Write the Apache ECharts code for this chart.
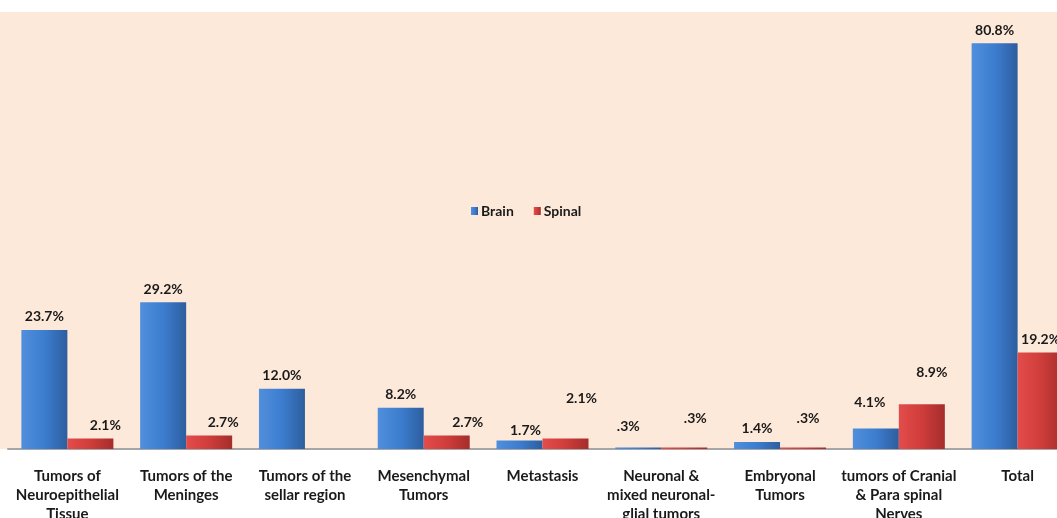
<!DOCTYPE html>
<html>
<head>
<meta charset="utf-8">
<script src="https://cdn.jsdelivr.net/npm/echarts@6/dist/echarts.min.js"></script>
<style>
html,body{margin:0;padding:0;background:#fff;overflow:hidden;width:1057px;height:518px;}
#chart{width:1100px;height:518px;}
</style>
</head>
<body>
<div id="chart"></div>
<script>
const categories = [
  "Tumors of\nNeuroepithelial\nTissue",
  "Tumors of the\nMeninges",
  "Tumors of the\nsellar region",
  "Mesenchymal\nTumors",
  "Metastasis",
  "Neuronal &\nmixed neuronal-\nglial tumors",
  "Embryonal\nTumors",
  "tumors of Cranial\n& Para spinal\nNerves",
  "Total"
];
const brain  = [23.7, 29.2, 12.0, 8.2, 1.7, 0.3, 1.4, 4.1, 80.8];
const spinal = [2.1, 2.7, 0, 2.7, 2.1, 0.3, 0.3, 8.9, 19.2];
const seriesNames = ["Brain", "Spinal"];

// label nudges (style only)
const brainLabelShift  = [[0,0],[0,0],[0,0],[0,0],[6,3],[-10,-8],[0,0],[-6,-13],[0,0]];
const spinalLabelShift = [[15,0],[14,0],[0,0],[21,0],[16,-27],[11,-16],[5,-16],[10,-19],[0,0]];

function fmt(v){
  if (!v) return '';
  let s = v.toFixed(1);
  if (s.startsWith('0')) s = s.slice(1);
  return s + '%';
}
const FONT = 'Lato, "Open Sans", sans-serif';

function grad(c1, c2, c3){
  return new echarts.graphic.LinearGradient(0,0,1,0,[
    {offset:0,color:c1},{offset:0.5,color:c2},{offset:1,color:c3}
  ]);
}
function buildData(vals, shifts){
  return vals.map((v,i)=>({
    value: v,
    label: { offset: shifts[i] }
  }));
}

const chart = echarts.init(document.getElementById('chart'));
chart.setOption({
  animation:false,
  backgroundColor:'#ffffff',
  graphic:[{
    type:'rect', z:-10, silent:true,
    shape:{x:0,y:12,width:1057,height:437},
    style:{fill:'#fde9da'}
  }],
  legend:{
    data:seriesNames,
    left:466, top:199,
    itemWidth:7, itemHeight:8, itemGap:20,
    icon:'rect',
    textStyle:{fontFamily:FONT,fontSize:14,fontWeight:'bold',color:'#1a1a1a',padding:[0,0,0,-2]}
  },
  grid:{left:8, top:12, right:23, bottom:69, containLabel:false, outerBoundsMode:'none'},
  xAxis:{
    type:'category',
    data:categories,
    axisLine:{show:true,lineStyle:{color:'#a6a6a6',width:2}},
    axisTick:{show:false},
    axisLabel:{
      interval:0, margin:18,
      fontFamily:FONT, fontSize:15, fontWeight:'bold', color:'#1a1a1a',
      lineHeight:19
    }
  },
  yAxis:{type:'value',min:0,max:87,show:false,splitLine:{show:false}},
  series:[
    {
      name:seriesNames[0], type:'bar', barWidth:46, barGap:'0%',
      data:buildData(brain, brainLabelShift),
      itemStyle:{color:grad('#4f8fdc','#3d7dcf','#2d5e9e')},
      label:{show:true,position:'top',distance:6,formatter:p=>fmt(p.value),
        fontFamily:FONT,fontSize:14,fontWeight:'bold',color:'#1a1a1a'}
    },
    {
      name:seriesNames[1], type:'bar', barWidth:46, barGap:'0%',
      data:buildData(spinal, spinalLabelShift),
      itemStyle:{color:grad('#e34c4a','#cf3d3b','#a42d2b')},
      label:{show:true,position:'top',distance:6,formatter:p=>fmt(p.value),
        fontFamily:FONT,fontSize:14,fontWeight:'bold',color:'#1a1a1a'}
    }
  ]
});
</script>
</body>
</html>
